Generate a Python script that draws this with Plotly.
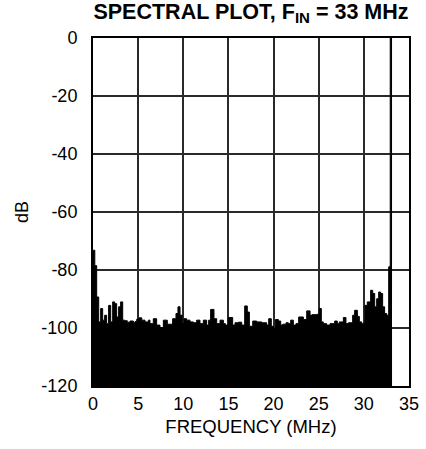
import plotly.graph_objects as go

# Spectrum envelope (bin start frequency in MHz, level in dB)
bin_start_mhz = [
    0.00, 0.20, 0.41, 0.63, 0.85, 1.07, 1.29, 1.51, 1.73, 1.96,
    2.18, 2.40, 2.62, 2.84, 3.06, 3.29, 3.51, 3.80, 4.10, 4.47,
    4.65, 4.84, 5.10, 5.40, 5.76, 6.13, 6.31, 6.68, 7.05, 7.42,
    7.79, 8.23, 8.82, 9.19, 9.41, 9.64, 9.86, 10.08, 10.37, 10.74,
    11.11, 11.48, 11.85, 12.22, 12.59, 12.81, 13.03, 13.40, 13.70, 14.07,
    14.44, 14.66, 14.99, 15.47, 15.73, 16.10, 16.47, 16.80, 17.09, 17.32,
    17.69, 18.13, 18.68, 19.24, 19.46, 19.75, 19.97, 20.20, 20.53, 20.79,
    21.01, 21.38, 21.64, 21.89, 22.19, 22.48, 22.78, 23.30, 23.67, 24.04,
    24.26, 24.77, 25.07, 25.29, 25.51, 25.88, 26.25, 26.77, 27.06, 27.28,
    27.73, 28.02, 28.28, 28.76, 28.98, 29.28, 29.50, 29.76, 30.13, 30.38,
    30.75, 30.98, 31.20, 31.42, 31.64, 31.86, 32.08, 32.30, 32.53, 32.75,
    32.92,
]
bin_level_db = [
    -73.2, -78.5, -89.3, -97.9, -93.3, -97.3, -95.6, -98.5, -92.2, -97.9,
    -91.0, -91.6, -96.2, -92.7, -91.0, -97.3, -97.5, -98.0, -97.6, -98.2,
    -97.8, -97.0, -96.5, -97.3, -97.9, -97.3, -98.5, -96.8, -99.0, -99.9,
    -97.3, -98.7, -96.8, -95.0, -92.7, -95.6, -98.5, -96.8, -97.3, -97.9,
    -98.2, -97.3, -98.5, -97.3, -99.0, -97.3, -93.6, -96.8, -98.5, -97.3,
    -98.5, -99.0, -96.4, -99.0, -98.2, -98.0, -99.0, -92.4, -94.5, -99.4,
    -97.6, -97.9, -98.2, -99.0, -96.8, -99.4, -100.2, -97.1, -97.6, -99.0,
    -98.7, -98.2, -98.5, -97.3, -99.0, -98.5, -96.2, -97.1, -94.1, -95.6,
    -95.4, -95.3, -93.3, -97.9, -98.5, -99.0, -98.5, -97.6, -98.5, -97.9,
    -96.4, -98.5, -98.2, -95.6, -93.9, -96.0, -97.9, -98.5, -92.2, -91.0,
    -87.0, -88.1, -92.7, -89.9, -87.6, -88.1, -92.7, -95.0, -95.6, -78.9,
    0.0,
]
spectrum_end_mhz = 33.12
floor_db = -120

x_ticks = [0, 5, 10, 15, 20, 25, 30, 35]
y_ticks = [0, -20, -40, -60, -80, -100, -120]

step_x = bin_start_mhz + [spectrum_end_mhz]
step_y = bin_level_db + [bin_level_db[-1]]

fig = go.Figure()
fig.add_trace(go.Scatter(
    x=[bin_start_mhz[0], spectrum_end_mhz], y=[floor_db, floor_db],
    mode="lines", line=dict(width=0, color="black"), showlegend=False,
    hoverinfo="skip",
))
fig.add_trace(go.Scatter(
    x=step_x, y=step_y, mode="lines", line_shape="hv",
    line=dict(color="black", width=1), fill="tonexty", fillcolor="black",
    showlegend=False,
))

font_family = "Liberation Sans, Arial, sans-serif"
fig.update_layout(
    width=426, height=449,
    margin=dict(l=93, r=17, t=38, b=63, autoexpand=False),
    paper_bgcolor="white", plot_bgcolor="white",
    font=dict(family=font_family, color="black", size=18),
    title=dict(
        text="<b>SPECTRAL PLOT, F<sub>IN</sub> = 33 MHz</b>",
        font=dict(size=21.5, family=font_family, color="black"),
        xref="container", x=251 / 426, xanchor="center",
        yref="container", y=1 - 11 / 449, yanchor="middle",
        automargin=False,
    ),
    xaxis=dict(
        range=[0, 35], tickvals=x_ticks, ticktext=[str(v) for v in x_ticks],
        showgrid=True, gridcolor="#2a2a2a", gridwidth=1.5,
        showline=True, linecolor="black", linewidth=2, mirror=True,
        zeroline=False, ticks="", ticklabelstandoff=0, automargin=False,
        title=dict(text="FREQUENCY (MHz)", standoff=7, font=dict(size=18.5)),
        tickfont=dict(size=18),
    ),
    yaxis=dict(
        range=[-120, 0], tickvals=y_ticks, ticktext=[str(v) for v in y_ticks],
        showgrid=True, gridcolor="#2a2a2a", gridwidth=1.5,
        showline=True, linecolor="black", linewidth=2, mirror=True,
        zeroline=False, ticks="", ticklabelstandoff=10, automargin=False,
        title=dict(text="dB", standoff=8, font=dict(size=18)),
        tickfont=dict(size=18),
    ),
)

fig.write_html(
    "out.html",
    config={"displayModeBar": False},
    post_script="document.body.style.margin='0px';",
)
